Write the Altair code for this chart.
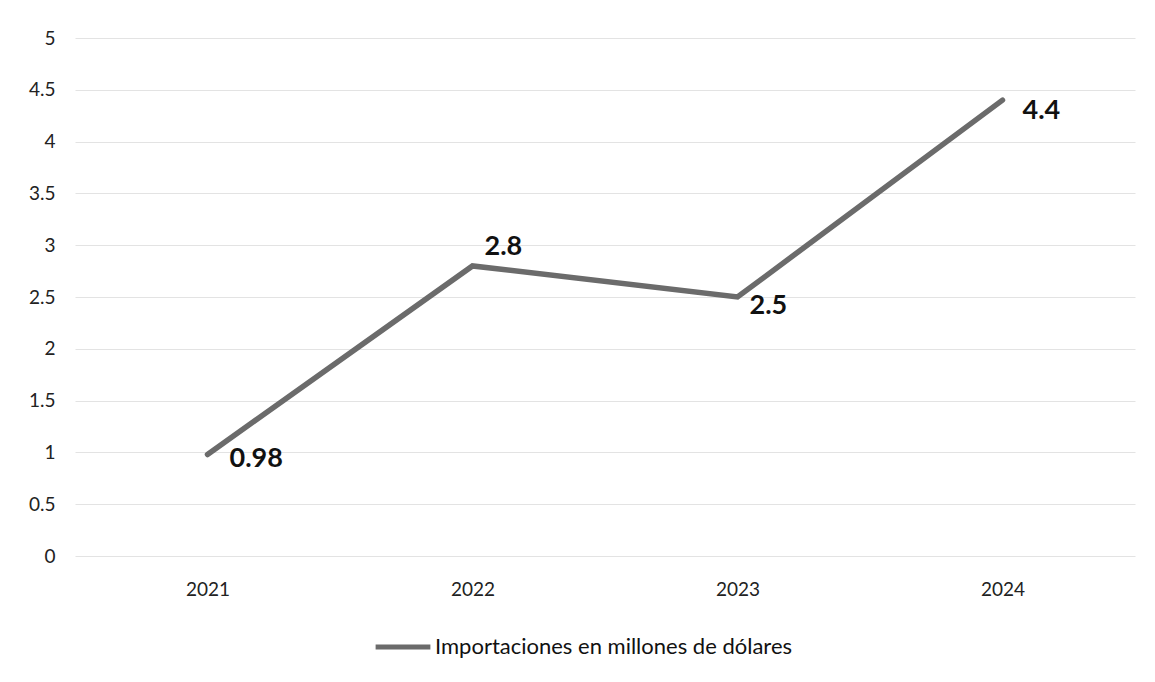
import altair as alt
import pandas as pd

years = ["2021", "2022", "2023", "2024"]
values = [0.98, 2.8, 2.5, 4.4]
labels = ["0.98", "2.8", "2.5", "4.4"]
series = "Importaciones en millones de dólares"

df = pd.DataFrame({"year": years, "value": values, "label": labels, "serie": [series] * 4})

FONT = "Lato"

x = alt.X("year:N", title=None, sort=years,
          scale=alt.Scale(paddingInner=0, paddingOuter=0.5),
          axis=alt.Axis(labelAngle=0, labelFontSize=19, labelColor="#222222", labelFont=FONT,
                        domain=False, ticks=False, labelPadding=24, grid=False))
y = alt.Y("value:Q", title=None,
          scale=alt.Scale(domain=[0, 5], nice=False),
          axis=alt.Axis(values=[0, 0.5, 1, 1.5, 2, 2.5, 3, 3.5, 4, 4.5, 5], format="~g",
                        labelFontSize=19, labelColor="#222222", labelFont=FONT, domain=False,
                        ticks=False, labelPadding=20, gridColor="#e3e3e3", gridWidth=1.2))

base = alt.Chart(df)

line = base.mark_line(strokeWidth=5.5, strokeCap="round").encode(
    x=x, y=y,
    color=alt.Color("serie:N", scale=alt.Scale(range=["#6b6b6b"]),
                    legend=alt.Legend(title=None, orient="none", legendX=298, legendY=579,
                                      symbolType="stroke", symbolStrokeWidth=5, symbolSize=3000,
                                      labelFontSize=22, labelFont=FONT, labelColor="#111111",
                                      labelOffset=2, labelLimit=0))
)

def lab(year, dx, dy):
    return base.transform_filter(alt.datum.year == year).mark_text(
        align="left", baseline="middle", dx=dx, dy=dy, fontSize=27, fontWeight="bold",
        font=FONT, color="#111111"
    ).encode(x=alt.X("year:N", sort=years), y="value:Q", text="label:N")

chart = alt.layer(
    line,
    lab("2021", 22, 5),
    lab("2022", 12, -19),
    lab("2023", 12, 9),
    lab("2024", 20, 11),
).properties(
    width=1060, height=518,
    autosize=alt.AutoSizeParams(type="none"),
    padding={"left": 67, "top": 30, "right": 12, "bottom": 118},
).configure(background="white").configure_view(stroke=None)

chart.save("out.html", embed_options={"renderer": "svg", "actions": False})
